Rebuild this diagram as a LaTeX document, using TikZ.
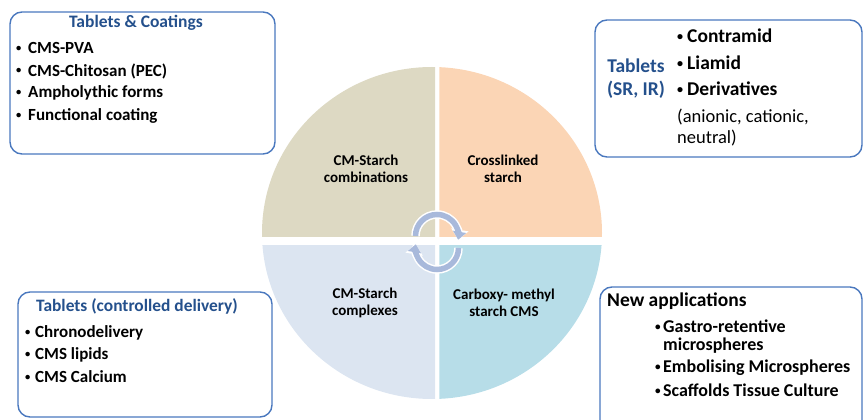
\documentclass[tikz,border=0pt]{standalone}
\usepackage{fontspec}
\setmainfont{Carlito}
\usetikzlibrary{arrows.meta}
\definecolor{boxblue}{HTML}{4A78BE}
\definecolor{titleblue}{HTML}{24508C}
\definecolor{qtan}{HTML}{DDD9C3}
\definecolor{qpeach}{HTML}{FBD5B5}
\definecolor{qlblue}{HTML}{DCE5F1}
\definecolor{qteal}{HTML}{B7DDE8}
\definecolor{arrowc}{HTML}{A8B9DB}
\newcommand{\bul}[1]{\makebox[#1][l]{\raisebox{0.12em}{\scalebox{0.62}{•}}}}
\tikzset{
  panel/.style={draw=boxblue, line width=1.4pt, rounded corners=12pt},
  ttl/.style={font=\fontsize{17.5}{20}\selectfont\bfseries, text=titleblue, inner sep=0pt},
  itm/.style={font=\fontsize{17}{20}\selectfont\bfseries, anchor=west, inner sep=0pt},
  bigitm/.style={font=\fontsize{19.5}{22}\selectfont\bfseries, anchor=west, inner sep=0pt},
  regitm/.style={font=\fontsize{18.5}{21}\selectfont, anchor=west, inner sep=0pt},
  qlabel/.style={font=\fontsize{15}{17.5}\selectfont\bfseries, align=center, inner sep=0pt},
  cyc/.style={line width=5.5pt, draw=arrowc, -{Triangle[width=13pt,length=8pt]}},
  cycw/.style={line width=8.5pt, draw=white, -{Triangle[width=17pt,length=10pt]}},
}
\begin{document}
\begin{tikzpicture}[x=1pt,y=-1pt]
\useasboundingbox (0,0) rectangle (863,420);
\begin{scope}
\clip (0,0) rectangle (863,420);
% quadrants
\begin{scope}
\clip (0,0) rectangle (435,236.7);
\fill[qtan] (432,233) ellipse [x radius=170, y radius=166];
\end{scope}
\begin{scope}
\clip (439.3,0) rectangle (863,236.7);
\fill[qpeach] (432,233) ellipse [x radius=170, y radius=166];
\end{scope}
\begin{scope}
\clip (0,245) rectangle (435,420);
\fill[qlblue] (432,233) ellipse [x radius=170, y radius=166];
\end{scope}
\begin{scope}
\clip (439.3,245) rectangle (863,420);
\fill[qteal] (432,233) ellipse [x radius=170, y radius=166];
\end{scope}
% cycle arrows
\draw[cycw] (415.5,236) arc[start angle=180, end angle=370, radius=21.5];
\draw[cyc] (415.5,236) arc[start angle=180, end angle=370, radius=21.5];
\draw[cycw] (458.5,248) arc[start angle=0, end angle=190, radius=21.5];
\draw[cyc] (458.5,248) arc[start angle=0, end angle=190, radius=21.5];
% quadrant labels
\node[qlabel] (q1) at (366,169) {CM-Starch\\combinations};
\node[qlabel] (q2) at (503,169) {Crosslinked\\starch};
\node[qlabel] (q3) at (365,303) {CM-Starch\\complexes};
\node[qlabel] (q4) at (504,303) {Carboxy- methyl\\starch CMS};
% panels
\draw[panel] (10,12) rectangle (275,154);
\draw[panel] (595,20) rectangle (862,157);
\draw[panel] (18,292) rectangle (272,417);
\draw[panel] (600,287) rectangle (862,440);
% box 1
\node[ttl] (t1) at (136,23) {Tablets \& Coatings};
\node[itm] (a1) at (16,48) {\bul{12pt}CMS-PVA};
\node[itm] (a2) at (16,71) {\bul{12pt}CMS-Chitosan (PEC)};
\node[itm] (a3) at (16,93) {\bul{12pt}Ampholythic forms};
\node[itm] (a4) at (16,116) {\bul{12pt}Functional coating};
% box 2
\node[ttl, font=\fontsize{19.5}{23}\selectfont\bfseries, align=center] (t2) at (636,79) {Tablets\\(SR, IR)};
\node[bigitm] (b1) at (677,36) {\bul{10pt}Contramid};
\node[bigitm] (b2) at (677,63) {\bul{10pt}Liamid};
\node[bigitm] (b3) at (677,89) {\bul{10pt}Derivatives};
\node[regitm] (b4) at (677,117) {(anionic, cationic,};
\node[regitm] (b5) at (677,138) {neutral)};
% box 3
\node[ttl, font=\fontsize{17.4}{20}\selectfont\bfseries] (t3) at (137,306) {Tablets (controlled delivery)};
\node[itm] (c1) at (25,333) {\bul{10pt}Chronodelivery};
\node[itm] (c2) at (25,355) {\bul{10pt}CMS lipids};
\node[itm] (c3) at (25,377) {\bul{10pt}CMS Calcium};
% box 4
\node[bigitm] (t4) at (607,301) {New applications};
\node[itm, font=\fontsize{18}{21}\selectfont\bfseries] (d1) at (655,326) {\bul{8pt}Gastro-retentive};
\node[itm, font=\fontsize{18}{21}\selectfont\bfseries] (d2) at (663,346) {microspheres};
\node[itm, font=\fontsize{18}{21}\selectfont\bfseries] (d3) at (655,368) {\bul{8pt}Embolising Microspheres};
\node[itm, font=\fontsize{18}{21}\selectfont\bfseries] (d4) at (655,390) {\bul{8pt}Scaffolds Tissue Culture};
\end{scope}
\end{tikzpicture}
\end{document}
